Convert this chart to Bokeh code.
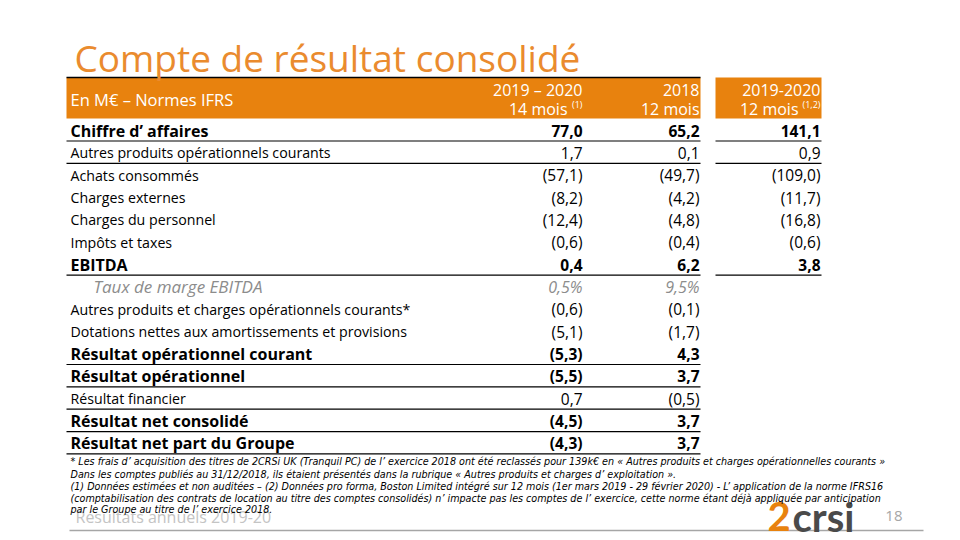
from bokeh.plotting import figure
from bokeh.models import Range1d, ColumnDataSource
from bokeh.core.properties import value
from bokeh.embed import file_html
from bokeh.resources import INLINE

# ---------------- data ----------------
title = "Compte de résultat consolidé"
header_label = "En M€ – Normes IFRS"
col_line1 = ["2019 – 2020", "2018", "2019-2020"]
col_line2 = ["14 mois", "12 mois", "12 mois"]
col_sup = ["(1)", "", "(1,2)"]

row_labels = [
    "Chiffre d’ affaires",
    "Autres produits opérationnels courants",
    "Achats consommés",
    "Charges externes",
    "Charges du personnel",
    "Impôts et taxes",
    "EBITDA",
    "Taux de marge EBITDA",
    "Autres produits et charges opérationnels courants*",
    "Dotations nettes aux amortissements et provisions",
    "Résultat opérationnel courant",
    "Résultat opérationnel",
    "Résultat financier",
    "Résultat net consolidé",
    "Résultat net part du Groupe",
]
v_2019_2020_14m = ["77,0", "1,7", "(57,1)", "(8,2)", "(12,4)", "(0,6)", "0,4", "0,5%",
                   "(0,6)", "(5,1)", "(5,3)", "(5,5)", "0,7", "(4,5)", "(4,3)"]
v_2018_12m = ["65,2", "0,1", "(49,7)", "(4,2)", "(4,8)", "(0,4)", "6,2", "9,5%",
              "(0,1)", "(1,7)", "4,3", "3,7", "(0,5)", "3,7", "3,7"]
v_2019_2020_12m = ["141,1", "0,9", "(109,0)", "(11,7)", "(16,8)", "(0,6)", "3,8"]

footnotes = [
    "* Les frais d’  acquisition des titres de 2CRSi UK (Tranquil PC) de l’  exercice 2018 ont été reclassés pour 139k€ en « Autres produits et charges opérationnelles courants »",
    "Dans les comptes publiés au 31/12/2018, ils étaient présentés dans la rubrique « Autres produits et charges d’  exploitation ».",
    "(1) Données estimées et non auditées – (2) Données pro forma, Boston Limited intégré sur 12 mois (1er mars 2019 - 29 février 2020) - L’  application de la norme IFRS16",
    "(comptabilisation des contrats de location au titre des comptes consolidés) n’  impacte pas les comptes de l’  exercice, cette norme étant déjà appliquée par anticipation",
    "par le Groupe au titre de l’  exercice 2018.",
]
footer_text = "Résultats annuels 2019-20"
page_number = "18"

# ---------------- style ----------------
BOLD_ROWS = {0, 6, 10, 11, 13, 14}
ITALIC_ROWS = {7}
RULE_AFTER = [0, 1, 6, 10, 11, 12, 13, 14]
RULE_AFTER_C3 = [0, 1, 6]

ORANGE = "#E8820E"
TITLE_ORANGE = "#EA8B2E"
FONT = "Open Sans"

Y0, STEP = 130.0, 22.35
X_LABEL, X_INDENT = 70, 93
X_COLS = [582, 699, 820]

p = figure(width=960, height=540, x_range=Range1d(0, 960), y_range=Range1d(540, 0),
           output_backend="svg", toolbar_location=None, min_border=0)
p.axis.visible = False
p.grid.visible = False
p.outline_line_color = None
p.background_fill_color = "white"

# header bands
p.quad(left=[66], right=[700], top=[77], bottom=[118], fill_color=ORANGE, line_color=None)
p.quad(left=[715], right=[821], top=[77], bottom=[118], fill_color=ORANGE, line_color=None)
p.segment(x0=[66], x1=[700], y0=[77], y1=[77], line_color="black", line_width=1.5)

# title
p.text(x=[74], y=[57], text=[title], text_font=value(FONT), text_font_size="37px",
       text_color=TITLE_ORANGE, text_baseline="middle", text_align="left")

p.text(x=[X_LABEL], y=[99], text=[header_label], text_font=value(FONT), text_font_size="16.5px",
       text_color="white", text_baseline="middle", text_align="left")
sup_w = {"(1)": 15, "": 0, "(1,2)": 22}
for xr, l1, l2, sp in zip(X_COLS, col_line1, col_line2, col_sup):
    p.text(x=[xr], y=[89], text=[l1], text_font=value(FONT), text_font_size="16px",
           text_color="white", text_baseline="middle", text_align="right")
    p.text(x=[xr - sup_w[sp]], y=[108], text=[l2], text_font=value(FONT), text_font_size="16px",
           text_color="white", text_baseline="middle", text_align="right")
    if sp:
        p.text(x=[xr], y=[104], text=[sp], text_font=value(FONT), text_font_size="9px",
               text_color="white", text_baseline="middle", text_align="right")

# rows
ys = [Y0 + i * STEP for i in range(len(row_labels))]

def add_rows(idx, style, size, vsize, color, x_label):
    if not idx:
        return
    lab = ColumnDataSource(dict(x=[x_label] * len(idx), y=[ys[i] for i in idx],
                                t=[row_labels[i] for i in idx]))
    p.text(x="x", y="y", text="t", source=lab, text_font=value(FONT), text_font_size=size,
           text_font_style=style, text_color=color, text_baseline="middle", text_align="left")
    for xc, vals in zip(X_COLS, [v_2019_2020_14m, v_2018_12m, v_2019_2020_12m]):
        sel = [i for i in idx if i < len(vals)]
        if not sel:
            continue
        src = ColumnDataSource(dict(x=[xc] * len(sel), y=[ys[i] for i in sel], t=[vals[i] for i in sel]))
        p.text(x="x", y="y", text="t", source=src, text_font=value(FONT), text_font_size=vsize,
               text_font_style=style, text_color=color, text_baseline="middle", text_align="right")

all_idx = list(range(len(row_labels)))
add_rows([i for i in all_idx if i in BOLD_ROWS], "bold", "16px", "15.5px", "black", X_LABEL)
add_rows([i for i in all_idx if i not in BOLD_ROWS and i not in ITALIC_ROWS], "normal", "14.2px", "15.5px",
         "black", X_LABEL)
add_rows([i for i in all_idx if i in ITALIC_ROWS], "italic", "17px", "16px", "#8C8C8C", X_INDENT)

# rules
ry = [ys[i] + 10.5 for i in RULE_AFTER]
p.segment(x0=[66] * len(ry), x1=[700] * len(ry), y0=ry, y1=ry, line_color="black", line_width=1.2)
ry3 = [ys[i] + 10.5 for i in RULE_AFTER_C3]
p.segment(x0=[715] * len(ry3), x1=[821] * len(ry3), y0=ry3, y1=ry3, line_color="black", line_width=1.2)

# footer
p.text(x=[75], y=[516], text=[footer_text], text_font=value(FONT), text_font_size="16px",
       text_color="#C4C4C4", text_baseline="middle", text_align="left")
p.segment(x0=[69], x1=[923], y0=[530], y1=[530], line_color="#A6A6A6", line_width=1.5)
p.text(x=[767], y=[516], text=["2"], text_font=value("Lato"), text_font_size="40px",
       text_font_style="bold", text_color=ORANGE, text_baseline="middle", text_align="left")
p.text(x=[792], y=[516], text=["crsi"], text_font=value("Lato"), text_font_size="40px",
       text_font_style="bold", text_color="#4A4A4A", text_baseline="middle", text_align="left")
p.text(x=[902], y=[515], text=[page_number], text_font=value(FONT), text_font_size="15px",
       text_color="#A6A6A6", text_baseline="middle", text_align="right")

# footnotes
fy = [461, 474, 486, 498, 509]
fsrc = ColumnDataSource(dict(x=[X_LABEL] * len(footnotes), y=fy, t=footnotes))
p.text(x="x", y="y", text="t", source=fsrc, text_font=value("DejaVu Sans"), text_font_size="9.6px",
       text_font_style="italic", text_color="black", text_baseline="middle", text_align="left")

open("out.html", "w").write(file_html(p, INLINE))
